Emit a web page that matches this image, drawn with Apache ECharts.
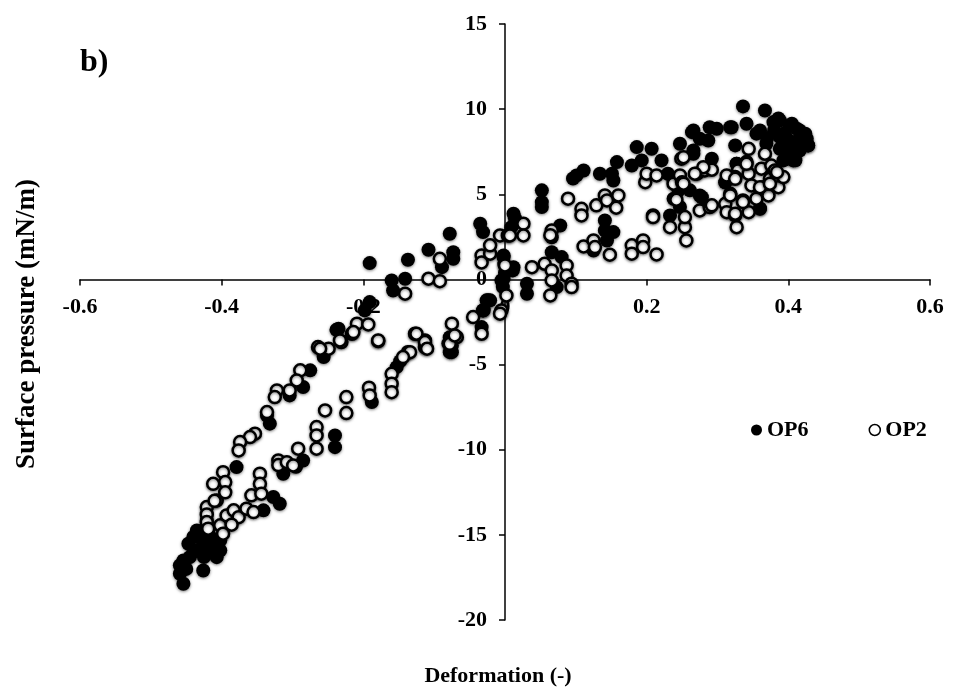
<!DOCTYPE html>
<html>
<head>
<meta charset="UTF-8">
<title>Surface pressure vs deformation</title>
<script type="text/javascript" src="https://cdn.jsdelivr.net/npm/echarts@6/dist/echarts.min.js"></script>
</head>
<body style="margin:0;background:#fff;">

<div id="box" style="width:953px;height:697px;"></div>

<script type="text/javascript">

// axis ticks
var xTicks=[-0.6,-0.4,-0.2,0,0.2,0.4,0.6];
var yTicks=[-20,-15,-10,-5,0,5,10,15];

// OP6 (filled) : [deformation, surface pressure]
var op6=[
 [0.336,10.16],[0.367,9.92],[0.386,9.45],[0.405,9.14],[0.416,8.75],[0.426,8.26],[0.428,7.87],[0.416,7.57],
 [0.402,7.18],[0.393,6.99],[0.410,7.0],[0.388,8.36],[0.380,8.75],[0.360,8.75],[0.341,9.14],[0.318,8.94],
 [0.299,8.85],[0.289,8.94],[0.287,8.16],[0.275,8.26],[0.264,8.65],[0.266,7.57],[0.247,7.97],[0.292,7.09],
 [0.325,7.87],[0.327,6.79],[0.221,6.99],[0.207,7.67],[0.186,7.77],[0.193,6.99],[0.179,6.69],[0.158,6.89],
 [0.151,6.21],[0.153,5.81],[0.134,6.21],[0.111,6.40],[0.101,6.11],[0.096,5.93],[0.052,5.23],[0.052,4.54],
 [0.052,4.25],[0.012,3.86],[0.014,3.6],[0.009,3.07],[0.230,6.21],[0.238,5.8],[0.245,5.23],[0.238,4.74],
 [0.247,4.25],[0.233,3.76],[0.261,5.23],[0.278,4.83],[0.311,5.71],[0.360,4.17],[0.141,3.46],[0.141,2.88],
 [0.153,2.78],[0.144,2.29],[0.125,1.70],[0.078,3.17],[0.066,2.48],[0.066,1.60],[0.080,1.31],[0.073,-0.45],
 [0.031,-0.25],[0.031,-0.84],[-0.002,1.31],[-0.001,0.9],[-0.005,-0.06],[-0.003,-0.45],[0.011,0.53],
 [-0.026,-1.23],[-0.030,-1.8],
 [0.266,8.75],[0.320,8.94],[0.379,9.24],[0.388,9.34],[0.402,9.04],[0.412,8.85],[0.424,8.56],[0.428,7.87],
 [0.407,6.99],[0.388,7.67],[0.369,7.97],[0.355,8.56],[0.398,8.26],[0.407,8.06],[0.266,7.38],[0.275,4.93],
 [0.311,5.7],[0.360,4.15],[0.327,6.8],[0.395,8.6],[0.415,8.2],[0.400,7.6],[0.370,8.3],
 [-0.191,0.96],[-0.160,-0.06],[-0.141,0.04],[-0.158,-0.65],[-0.137,1.16],[-0.108,1.74],[-0.089,0.72],
 [-0.078,2.68],[-0.073,1.60],[-0.073,1.21],[-0.035,3.27],[-0.031,2.78],[-0.002,1.41],[-0.002,0.04],
 [0.0,0.4],[0.012,0.72],[-0.191,-1.33],[-0.198,-1.82],[-0.024,-1.23],[-0.031,-1.82],[-0.033,-2.80],
 [-0.235,-2.90],[-0.078,-3.39],[-0.080,-3.76],[-0.075,-4.27],
 [-0.238,-2.96],[-0.256,-4.56],[-0.275,-5.34],[-0.285,-6.32],[-0.304,-6.81],[-0.332,-8.47],[-0.336,-8.0],
 [-0.379,-11.02],[-0.240,-9.16],[-0.240,-9.85],[-0.188,-7.20],[-0.153,-5.15],[-0.148,-4.8],[-0.078,-4.27],
 [-0.075,-3.9],[-0.031,-1.82],[-0.021,-1.23],[-0.341,-13.56],[-0.318,-13.17],[-0.327,-12.78],[-0.285,-10.63],
 [-0.313,-11.41],[-0.295,-11.0],
 [-0.440,-15.13],[-0.426,-15.52],[-0.412,-15.72],[-0.402,-15.91],[-0.435,-15.91],[-0.445,-16.31],[-0.425,-16.3],
 [-0.454,-16.50],[-0.459,-16.79],[-0.459,-17.28],[-0.454,-17.87],[-0.426,-17.09],[-0.435,-14.74],[-0.416,-15.13],
 [-0.402,-15.32],[-0.421,-14.15],[-0.447,-15.52],[-0.415,-15.9],[-0.407,-16.31],[-0.430,-15.0],[-0.440,-16.0],
 [-0.450,-17.0],[-0.420,-15.3]
];

// OP2 (open) : [deformation, surface pressure]
var op2=[
 [-0.141,-0.84],[-0.108,0.04],[-0.092,-0.10],[-0.092,1.21],[-0.033,1.41],[-0.033,1.0],[-0.021,1.51],[-0.021,2.00],
 [-0.007,2.58],[0.004,2.58],[0.0,0.82],[0.002,-0.94],[-0.005,-1.82],[-0.045,-2.21],[-0.033,-3.19],
 [-0.209,-2.60],[-0.193,-2.64],[-0.216,-3.19],[-0.231,-3.68],[-0.264,-3.97],[-0.249,-4.07],[-0.179,-3.62],
 [-0.127,-3.19],[-0.113,-3.58],[-0.113,-3.97],[-0.137,-4.27],[-0.075,-2.60],[-0.068,-3.39],[-0.078,-3.78],
 [0.089,4.74],[0.108,4.15],[0.108,3.76],[0.129,4.35],[0.141,4.93],[0.144,4.64],[0.160,4.93],[0.157,4.21],
 [0.026,3.27],[0.026,2.58],[0.007,2.58],[0.066,2.88],[0.064,2.6],[0.038,0.72],[0.056,0.92],[0.066,0.53],
 [0.066,-0.06],[0.087,0.82],[0.087,0.23],[0.094,-0.25],[0.094,-0.45],[0.064,-0.94],[0.111,1.94],[0.125,2.29],
 [0.127,1.90],[0.148,1.45],[0.179,2.00],[0.179,1.51],[0.195,2.29],[0.195,1.9],[0.214,1.47],[0.209,3.76],
 [0.233,3.07],[0.254,3.07],[0.254,3.66],[0.256,2.29],[0.198,5.71],[0.200,6.21],[0.214,6.11],[0.238,5.62],
 [0.242,4.68],[0.249,7.09],[0.247,6.11],[0.250,5.7],
 [0.271,6.21],[0.282,6.40],[0.292,6.44],[0.275,4.05],[0.289,4.25],[0.292,4.35],[0.311,4.44],[0.313,3.95],
 [0.325,3.76],[0.327,3.07],[0.318,5.03],[0.329,6.40],[0.325,6.01],[0.341,6.89],[0.344,7.67],[0.344,6.21],
 [0.348,5.52],[0.336,4.64],[0.344,3.95],[0.355,4.74],[0.362,6.50],[0.367,7.38],[0.365,5.42],[0.372,4.93],
 [0.376,6.69],[0.374,5.91],[0.384,6.01],[0.386,5.42],[0.393,6.01],[0.381,6.40],[0.209,3.66],[0.360,5.42],
 [0.374,5.62],[0.384,6.30],[0.318,4.93],[0.336,4.54],[0.325,3.86],[0.280,6.59],[0.268,6.21],[0.252,7.18],
 [0.252,5.62],[0.313,6.11],[0.325,5.91],[0.341,6.79],
 [-0.214,-3.09],[-0.233,-3.58],[-0.179,-3.58],[-0.261,-4.07],[-0.289,-5.34],[-0.294,-5.93],[-0.304,-6.52],
 [-0.322,-6.52],[-0.325,-6.91],[-0.336,-7.79],[-0.353,-9.06],[-0.360,-9.26],[-0.374,-9.55],[-0.376,-10.04],
 [-0.398,-11.32],[-0.395,-11.90],[-0.412,-12.00],[-0.407,-12.98],[-0.421,-13.37],[-0.421,-13.8],[-0.421,-14.25],
 [-0.419,-14.64],[-0.402,-14.44],[-0.398,-14.93],[-0.393,-13.86],[-0.383,-13.56],[-0.376,-13.96],[-0.365,-13.46],
 [-0.355,-13.66],[-0.346,-11.41],[-0.346,-12.00],[-0.358,-12.68],[-0.344,-12.58],[-0.320,-10.63],[-0.320,-10.9],
 [-0.308,-10.73],[-0.299,-10.92],[-0.292,-9.94],[-0.266,-8.67],[-0.266,-9.16],[-0.266,-9.94],[-0.254,-7.69],
 [-0.224,-6.91],[-0.224,-7.85],[-0.192,-6.36],[-0.191,-6.81],[-0.160,-5.54],[-0.160,-6.12],[-0.160,-6.62],
 [-0.134,-4.27],[-0.144,-4.56],[-0.125,-3.19],[-0.113,-3.68],[-0.110,-4.07],[-0.071,-3.29],[-0.007,-2.01],
 [-0.395,-12.5],[-0.410,-13.0],[-0.386,-14.4]
];

var font='"Liberation Serif","Times New Roman",serif';

// grid box (px) – axes are shifted to cross at the origin
var gridLeft=80,gridRight=23,gridTop=24,gridBottom=77;
var plotW=953-gridLeft-gridRight,plotH=697-gridTop-gridBottom;
// distance from grid edge to the zero line
var xZeroShift=plotH*(0-yTicks[0])/(yTicks[yTicks.length-1]-yTicks[0]);
var yZeroShift=plotW*(0-xTicks[0])/(xTicks[xTicks.length-1]-xTicks[0]);

var mychart=echarts.init(document.getElementById('box'));

var option={
  animation:false,
  backgroundColor:'#fff',
  grid:{left:gridLeft,right:gridRight,top:gridTop,bottom:gridBottom},
  legend:{
    left:746,top:414,
    itemWidth:11,itemHeight:11,itemGap:60,
    textStyle:{fontFamily:font,fontWeight:'bold',fontSize:22,color:'#000'},
    data:[
      {name:'OP6',icon:'circle',itemStyle:{color:'#000',borderWidth:0}},
      {name:'OP2',icon:'circle',itemStyle:{color:'#fff',borderColor:'#000',borderWidth:1.5}}
    ]
  },
  //x axis
  xAxis:{
    type:'value',
    min:xTicks[0],max:xTicks[xTicks.length-1],interval:0.2,
    offset:-xZeroShift,
    splitLine:{show:false},
    axisLine:{onZero:false,lineStyle:{color:'#000',width:1.5}},
    axisTick:{length:6,lineStyle:{color:'#000',width:1.5}},
    axisLabel:{margin:17,color:'#000',fontFamily:font,fontWeight:'bold',fontSize:22,
      formatter:function(v){return v===0?'0':v.toFixed(1);}}
  },
  //y axis
  yAxis:{
    type:'value',
    min:yTicks[0],max:yTicks[yTicks.length-1],interval:5,
    offset:-yZeroShift,
    splitLine:{show:false},
    axisLine:{onZero:false,lineStyle:{color:'#000',width:1.5}},
    axisTick:{length:6,lineStyle:{color:'#000',width:1.5}},
    axisLabel:{margin:18,color:'#000',fontFamily:font,fontWeight:'bold',fontSize:22}
  },
  series:[{
    name:'OP6',type:'scatter',symbol:'circle',symbolSize:14,
    itemStyle:{color:'#000',shadowBlur:3,shadowColor:'rgba(0,0,0,0.5)',shadowOffsetY:1,opacity:1},
    data:op6
  },{
    name:'OP2',type:'scatter',symbol:'circle',symbolSize:12,
    itemStyle:{color:'#fff',borderColor:'#000',borderWidth:2.5,shadowBlur:3,shadowColor:'rgba(0,0,0,0.5)',shadowOffsetY:1,opacity:1},
    data:op2
  }],
  graphic:[
    {type:'text',left:80,top:47,style:{text:'b)',font:'bold 32px '+font,fill:'#000'}},
    {type:'text',x:27,y:324,rotation:Math.PI/2,
      style:{text:'Surface pressure (mN/m)',font:'bold 27px '+font,fill:'#000',align:'center',verticalAlign:'middle'}},
    {type:'text',x:498,y:676,
      style:{text:'Deformation (-)',font:'bold 22px '+font,fill:'#000',align:'center',verticalAlign:'middle'}}
  ]
};

mychart.setOption(option);
</script>
</body>
</html>
